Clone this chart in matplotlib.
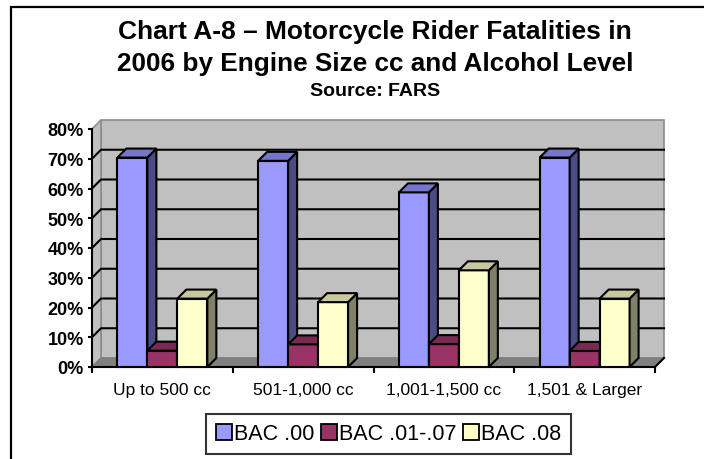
import matplotlib
matplotlib.use('Agg')
import matplotlib.pyplot as plt
from matplotlib.patches import Polygon, Rectangle
from matplotlib.lines import Line2D

plt.rcParams['font.family'] = ['Liberation Sans', 'DejaVu Sans']

# ---- data ----
categories = ['Up to 500 cc', '501-1,000 cc', '1,001-1,500 cc', '1,501 & Larger']
series_names = ['BAC .00', 'BAC .01-.07', 'BAC .08']
bac_00 = [70.4, 69.3, 58.7, 70.4]
bac_01_07 = [5.5, 7.6, 7.7, 5.4]
bac_08 = [23.0, 21.8, 32.5, 23.0]
y_ticks = [0, 10, 20, 30, 40, 50, 60, 70, 80]
y_tick_labels = ['0%', '10%', '20%', '30%', '40%', '50%', '60%', '70%', '80%']

series_values = [bac_00, bac_01_07, bac_08]
front_colors = ['#9999FF', '#993366', '#FFFFCC']
side_colors = ['#4C4C85', '#6E2449', '#808066']
top_colors = ['#7676CC', '#7A2952', '#C8C8A0']

W, H = 704, 460
fig = plt.figure(figsize=(W / 100, H / 100), dpi=100)
ax = fig.add_axes([92 / W, (H - 368) / H, (655 - 92) / W, (368 - 130) / H])
ax.set_xlim(-0.5, 3.5)
ax.set_ylim(0, 80)
ax.set_facecolor('none')

DX, DY = 9, 9  # depth in pixels


def back(x, y):
    px, py = ax.transData.transform((x, y))
    return tuple(ax.transData.inverted().transform((px + DX, py + DY)))


xmin, xmax = -0.5, 3.5
ymax = 80

# walls and floor
ax.add_patch(Polygon([back(xmin, 0), back(xmax, 0), back(xmax, ymax), back(xmin, ymax)],
                     closed=True, facecolor='#C0C0C0', edgecolor='#8C8C8C', lw=1.2,
                     zorder=0.5, clip_on=False))
ax.add_patch(Polygon([(xmin, 0), back(xmin, 0), back(xmin, ymax), (xmin, ymax)],
                     closed=True, facecolor='#C0C0C0', edgecolor='#8C8C8C', lw=1.2,
                     zorder=0.6, clip_on=False))
ax.add_patch(Polygon([(xmin, 0), (xmax, 0), back(xmax, 0), back(xmin, 0)],
                     closed=True, facecolor='#808080', edgecolor='#808080', lw=1,
                     zorder=0.7, clip_on=False))
bx, by = back(xmax, 0)
ax.add_line(Line2D([xmax, bx], [0, by], color='black', lw=1.5, zorder=0.8, clip_on=False))

# gridlines on side and back walls
for yv in y_ticks[1:-1]:
    b0 = back(xmin, yv)
    b1 = back(xmax, yv)
    ax.add_line(Line2D([xmin, b0[0], b1[0]], [yv, b0[1], b1[1]], color='black',
                       lw=1.5, zorder=1, clip_on=False))

# bars
w = 0.213
z = 2.0
for i in range(len(categories)):
    for j, vals in enumerate(series_values):
        c = i + (j - 1) * w
        h = vals[i]
        x0, x1 = c - w / 2, c + w / 2
        ax.bar(c, h, width=w, color=front_colors[j], edgecolor='black', lw=1.5,
               zorder=z, clip_on=False)
        side = [(x1, 0), (x1, h), back(x1, h), back(x1, 0)]
        top = [(x0, h), (x1, h), back(x1, h), back(x0, h)]
        ax.add_patch(Polygon(side, closed=True, facecolor=side_colors[j],
                             edgecolor='black', lw=1.5, zorder=z, clip_on=False))
        ax.add_patch(Polygon(top, closed=True, facecolor=top_colors[j],
                             edgecolor='black', lw=1.5, zorder=z, clip_on=False))
        z += 0.01

# axes styling
for s in ['top', 'right']:
    ax.spines[s].set_visible(False)
for s in ['left', 'bottom']:
    ax.spines[s].set_linewidth(1.5)
    ax.spines[s].set_zorder(1.5)
ax.set_yticks(y_ticks)
ax.set_yticklabels(y_tick_labels, fontsize=13, fontweight='bold')
ax.tick_params(axis='y', length=3, width=1.5, pad=3)
ax.set_xticks(range(len(categories)))
ax.set_xticklabels(categories, fontsize=12.5)
ax.tick_params(axis='x', which='major', length=0, pad=11)
ax.set_xticks([-0.5, 0.5, 1.5, 2.5, 3.5], minor=True)
ax.tick_params(axis='x', which='minor', length=4, width=1.5)

# titles
fig.text(375 / W, 1 - 39 / H, 'Chart A-8 \u2013 Motorcycle Rider Fatalities in',
         ha='center', va='baseline', fontsize=19, fontweight='bold')
fig.text(375 / W, 1 - 71 / H, '2006 by Engine Size cc and Alcohol Level',
         ha='center', va='baseline', fontsize=18.8, fontweight='bold')
fig.text(375 / W, 1 - 96 / H, 'Source: FARS',
         ha='center', va='baseline', fontsize=14, fontweight='bold')

# legend
handles = [Rectangle((0, 0), 1, 1, facecolor=front_colors[j], edgecolor='black', lw=1.3)
           for j in range(3)]
leg = fig.legend(handles, series_names, loc='center', bbox_to_anchor=(388.5 / W, 1 - 435 / H),
                 ncol=3, fontsize=15.5, frameon=True, fancybox=False, edgecolor='black',
                 borderpad=0.45, handlelength=0.75, handleheight=0.75, handletextpad=0.1,
                 columnspacing=0.3, borderaxespad=0)
leg.get_frame().set_linewidth(1.5)

# outer frame (cropped at right and bottom)
fig.add_artist(Rectangle((11 / W, -0.1), 1.2, 1 - 8 / H + 0.1, transform=fig.transFigure,
                         facecolor='none', edgecolor='black', lw=1.6))

fig.savefig('out.png', dpi=100)
